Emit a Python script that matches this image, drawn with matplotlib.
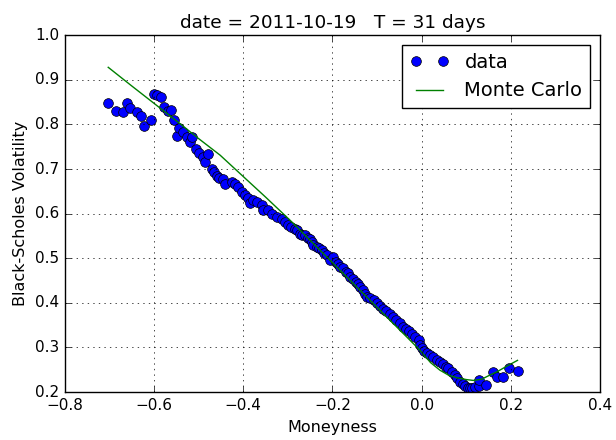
import matplotlib
matplotlib.use("Agg")
import matplotlib.pyplot as plt

plt.style.use("classic")

moneyness = [-0.703, -0.686, -0.671, -0.662, -0.655, -0.638, -0.630, -0.623, -0.608, -0.600,
             -0.593, -0.585, -0.577, -0.570, -0.562, -0.555, -0.549, -0.544, -0.535, -0.527,
             -0.520, -0.514, -0.506, -0.499, -0.491, -0.486, -0.480, -0.471, -0.465, -0.460,
             -0.455, -0.445, -0.441, -0.426, -0.419, -0.411, -0.404, -0.396, -0.389, -0.385,
             -0.378, -0.370, -0.359, -0.355, -0.344, -0.336, -0.325, -0.314, -0.307, -0.299,
             -0.292, -0.285, -0.280, -0.273, -0.268, -0.262, -0.256, -0.250, -0.246, -0.243,
             -0.235, -0.230, -0.224, -0.218, -0.213, -0.206, -0.198, -0.192, -0.187, -0.183,
             -0.176, -0.170, -0.165, -0.161, -0.153, -0.148, -0.142, -0.138, -0.132, -0.127,
             -0.123, -0.116, -0.108, -0.100, -0.093, -0.086, -0.079, -0.071, -0.064, -0.057,
             -0.049, -0.041, -0.034, -0.028, -0.022, -0.015, -0.007, -0.004, 0.000, 0.006,
             0.012, 0.019, 0.026, 0.034, 0.041, 0.048, 0.054, 0.060, 0.067, 0.075,
             0.080, 0.086, 0.092, 0.097, 0.103, 0.108, 0.114, 0.120, 0.128, 0.129,
             0.144, 0.159, 0.168, 0.182, 0.197, 0.215]
volatility = [0.848, 0.830, 0.828, 0.847, 0.836, 0.828, 0.818, 0.796, 0.809, 0.869,
              0.865, 0.862, 0.838, 0.830, 0.832, 0.809, 0.774, 0.791, 0.783, 0.772,
              0.761, 0.771, 0.744, 0.735, 0.726, 0.716, 0.733, 0.701, 0.694, 0.684,
              0.680, 0.678, 0.667, 0.671, 0.667, 0.660, 0.649, 0.641, 0.634, 0.623,
              0.630, 0.627, 0.619, 0.608, 0.608, 0.600, 0.593, 0.589, 0.581, 0.574,
              0.570, 0.566, 0.563, 0.555, 0.553, 0.552, 0.546, 0.544, 0.536, 0.529,
              0.525, 0.522, 0.518, 0.512, 0.507, 0.496, 0.503, 0.492, 0.488, 0.480,
              0.477, 0.470, 0.466, 0.458, 0.454, 0.447, 0.443, 0.436, 0.428, 0.420,
              0.413, 0.411, 0.406, 0.399, 0.393, 0.387, 0.381, 0.375, 0.368, 0.362,
              0.354, 0.346, 0.341, 0.336, 0.331, 0.324, 0.316, 0.305, 0.298, 0.293,
              0.288, 0.283, 0.278, 0.272, 0.267, 0.262, 0.257, 0.253, 0.246, 0.238,
              0.231, 0.223, 0.218, 0.213, 0.210, 0.208, 0.209, 0.212, 0.213, 0.228,
              0.215, 0.245, 0.234, 0.234, 0.255, 0.247]

mc_moneyness = [-0.703, -0.65, -0.60, -0.55, -0.50, -0.452, -0.40, -0.35, -0.295, -0.25,
                -0.20, -0.138, -0.10, -0.05, -0.004, 0.02, 0.041, 0.06, 0.079, 0.10,
                0.116, 0.135, 0.153, 0.17, 0.191, 0.215]
mc_volatility = [0.928, 0.886, 0.847, 0.808, 0.768, 0.731, 0.683, 0.637, 0.585, 0.540,
                 0.490, 0.428, 0.390, 0.340, 0.294, 0.266, 0.249, 0.238, 0.232, 0.228,
                 0.226, 0.229, 0.238, 0.246, 0.258, 0.271]

fig = plt.figure(figsize=(6.16, 4.4), dpi=100, facecolor="white")
ax = fig.add_axes([0.1055, 0.109, 0.8685, 0.811])
ax.plot(moneyness, volatility, "o", color="blue", markeredgecolor="black",
        markersize=7, label="data")
ax.plot(mc_moneyness, mc_volatility, "-", color="green", linewidth=1, label="Monte Carlo")
ax.set_xlim(-0.8, 0.4)
ax.set_ylim(0.2, 1.0)
ax.grid(True)
ax.set_xlabel("Moneyness", fontsize=11.5)
ax.set_ylabel("Black-Scholes Volatility", fontsize=11.5)
ax.set_title("date = 2011-10-19   T = 31 days", fontsize=13.3)
ax.tick_params(labelsize=11)
ax.legend(loc="upper right", numpoints=2, fontsize=14)
fig.savefig("out.png", dpi=100, facecolor="white")
